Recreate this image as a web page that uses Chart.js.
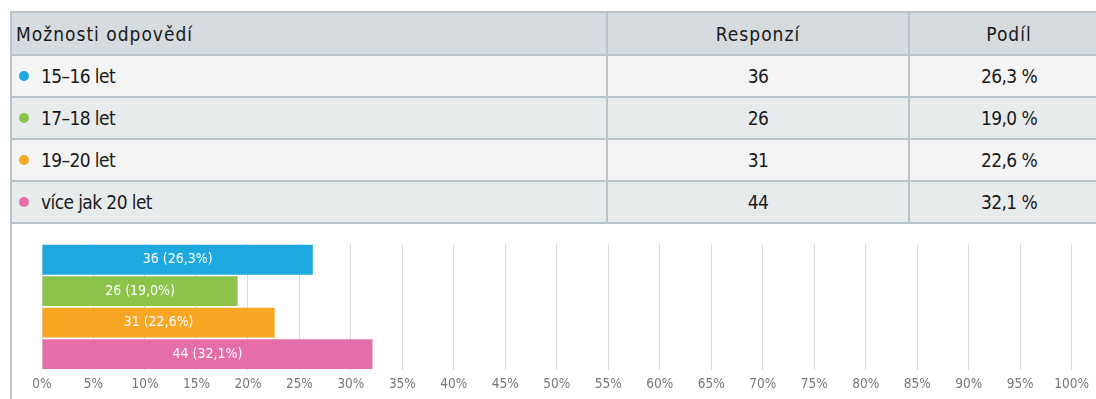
<!DOCTYPE html>
<html lang="cs">
<head>
<meta charset="utf-8">
<script src="https://cdn.jsdelivr.net/npm/chart.js@4/dist/chart.umd.min.js"></script>
<style>
    html, body { margin: 0; padding: 0; background: #fff; overflow: hidden; }
    body { width: 1096px; height: 399px; position: relative; }
    .results {
        position: absolute; left: 10px; top: 11px; width: 1100px; height: 400px;
        border-left: 2px solid #b9c4ca;
    }
    table {
        border-collapse: collapse; width: 1097px; table-layout: fixed;
        font-family: "Liberation Sans Narrow", "DejaVu Sans Condensed", sans-serif;
        font-size: 19px; color: #1a1a1a;
    }
    th, td { border: 2px solid #b9c4ca; border-left: none; height: 40px; padding: 0; text-align: center; }
    td { letter-spacing: -0.6px; }
    th { background: #d5dbdf; font-weight: normal; letter-spacing: 1px; height: 41px; }
    th:first-child, td:first-child { text-align: left; padding-left: 4px; }
    tr.odd td { background: #f4f4f4; }
    tr.even td { background: #e8ebec; }
    .dot { display: inline-block; width: 10px; height: 10px; border-radius: 50%; margin: 0 12px 0 3px; vertical-align: 2px; }
    #chartBox { position: absolute; left: 0; top: 226px; width: 1096px; height: 174px; }
</style>
</head>
<body>
<div class="results">
    <table id="answers">
        <colgroup><col style="width:595px"><col style="width:302px"><col style="width:200px"></colgroup>
        <thead><tr><th>Možnosti odpovědí</th><th>Responzí</th><th>Podíl</th></tr></thead>
        <tbody></tbody>
    </table>
</div>
<div id="chartBox"><canvas id="shareChart"></canvas></div>
<script>
const categories = ['15–16 let', '17–18 let', '19–20 let', 'více jak 20 let'];
const responses = [36, 26, 31, 44];
const shares = [26.3, 19.0, 22.6, 32.1];
const colors = ['#1ea8e0', '#8bc34b', '#f8a623', '#e56ea9'];

const fmt = v => v.toFixed(1).replace('.', ',');

// table rows
const tbody = document.querySelector('#answers tbody');
categories.forEach((cat, i) => {
    const tr = document.createElement('tr');
    tr.className = i % 2 === 0 ? 'odd' : 'even';
    tr.innerHTML = `<td><span class="dot" style="background:${colors[i]}"></span>${cat}</td>` +
        `<td>${responses[i]}</td><td>${fmt(shares[i])} %</td>`;
    tbody.appendChild(tr);
});

// white labels in the middle of each bar
const barLabels = {
    id: 'barLabels',
    afterDatasetsDraw(chart) {
        const ctx = chart.ctx;
        const meta = chart.getDatasetMeta(0);
        ctx.save();
        ctx.font = '14px "DejaVu Sans Condensed", "DejaVu Sans", sans-serif';
        ctx.fillStyle = '#fff';
        ctx.textAlign = 'center';
        ctx.textBaseline = 'middle';
        meta.data.forEach((bar, i) => {
            const cx = (bar.base + bar.x) / 2;
            ctx.fillText(`${responses[i]} (${fmt(shares[i])}%)`, cx, bar.y);
        });
        ctx.restore();
    }
};

new Chart(document.getElementById('shareChart'), {
    type: 'bar',
    data: {
        labels: categories,
        datasets: [{
            data: shares,
            backgroundColor: colors,
            borderWidth: 0,
            barPercentage: 0.95,
            categoryPercentage: 1
        }]
    },
    options: {
        indexAxis: 'y',
        responsive: true,
        maintainAspectRatio: false,
        animation: false,
        layout: { padding: { left: 42, right: 24, top: 18, bottom: 0 } },
        plugins: { legend: { display: false }, tooltip: { enabled: false } },
        scales: {
            x: {
                min: 0, max: 100,
                border: { display: false },
                grid: { color: '#d9d9d9', drawTicks: false },
                ticks: {
                    stepSize: 5, padding: 7, color: '#777',
                    font: { family: '"DejaVu Sans Condensed", "DejaVu Sans"', size: 13.5 },
                    callback: v => v + '%'
                }
            },
            y: { display: false }
        }
    },
    plugins: [barLabels]
});
</script>
</body>
</html>
